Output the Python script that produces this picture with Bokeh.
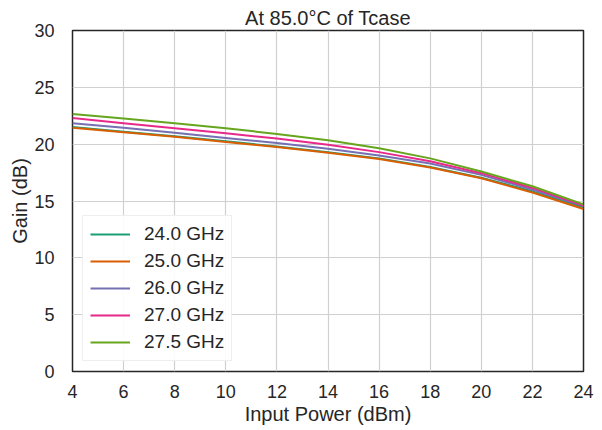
from bokeh.plotting import figure
from bokeh.models import Legend, LegendItem, Range1d, FixedTicker
from bokeh.embed import file_html
from bokeh.resources import INLINE

x_dbm = [4, 6, 8, 10, 12, 14, 16, 18, 20, 22, 24]
gain_24_0 = [21.5, 21.1, 20.7, 20.25, 19.8, 19.3, 18.75, 18.0, 17.05, 15.85, 14.45]
gain_25_0 = [21.45, 21.05, 20.65, 20.2, 19.75, 19.25, 18.7, 17.95, 17.0, 15.75, 14.3]
gain_26_0 = [21.85, 21.45, 21.0, 20.55, 20.1, 19.6, 19.0, 18.3, 17.3, 16.0, 14.55]
gain_27_0 = [22.3, 21.85, 21.4, 20.95, 20.5, 19.95, 19.3, 18.5, 17.45, 16.15, 14.6]
gain_27_5 = [22.65, 22.25, 21.85, 21.4, 20.9, 20.35, 19.65, 18.75, 17.6, 16.3, 14.7]
labels = ["24.0 GHz", "25.0 GHz", "26.0 GHz", "27.0 GHz", "27.5 GHz"]
colors = ["#1b9e77", "#d95f02", "#7570b3", "#e7298a", "#66a61e"]
series = [gain_24_0, gain_25_0, gain_26_0, gain_27_0, gain_27_5]
x_ticks = [4, 6, 8, 10, 12, 14, 16, 18, 20, 22, 24]
y_ticks = [0, 5, 10, 15, 20, 25, 30]

FONT = "Liberation Sans"
TXT = "#262626"

p = figure(width=602, height=430, output_backend="svg", toolbar_location=None,
           x_range=Range1d(4, 24), y_range=Range1d(0, 30),
           min_border_left=72, min_border_right=19, min_border_top=30, min_border_bottom=59)
p.title.text = "At 85.0°C of Tcase"
p.title.align = "center"
p.title.text_font = FONT
p.title.text_font_size = "20px"
p.title.text_font_style = "normal"
p.title.text_color = TXT
p.title.offset = -2
p.title.standoff = 4

p.outline_line_color = "#262626"
p.outline_line_width = 1.5

for ax in (p.xaxis[0], p.yaxis[0]):
    ax.axis_line_color = None
    ax.major_tick_line_color = None
    ax.minor_tick_line_color = None
    ax.major_label_text_font = FONT
    ax.major_label_text_font_size = "18px"
    ax.major_label_text_color = TXT
    ax.axis_label_text_font = FONT
    ax.axis_label_text_font_size = "20px"
    ax.axis_label_text_font_style = "normal"
    ax.axis_label_text_color = TXT

p.xaxis.ticker = FixedTicker(ticks=x_ticks)
p.yaxis.ticker = FixedTicker(ticks=y_ticks)
p.xaxis.axis_label = "Input Power (dBm)"
p.yaxis.axis_label = "Gain (dB)"
p.xaxis.major_label_standoff = 7
p.yaxis.major_label_standoff = 12
p.xaxis.axis_label_standoff = 2
p.yaxis.axis_label_standoff = 0

p.xgrid.grid_line_color = "#d0d0d0"
p.ygrid.grid_line_color = "#d0d0d0"
p.xgrid.grid_line_width = 1.2
p.ygrid.grid_line_width = 1.2

items = []
for lab, col, ys in zip(labels, colors, series):
    r = p.line(x_dbm, ys, line_color=col, line_width=2)
    items.append(LegendItem(label=lab, renderers=[r]))

legend = Legend(items=items, location="bottom_left")
legend.label_text_font = FONT
legend.label_text_font_size = "19px"
legend.label_text_color = TXT
legend.border_line_color = "#dddddd"
legend.border_line_width = 1
legend.background_fill_alpha = 0.9
legend.glyph_width = 40
legend.label_standoff = 14
legend.spacing = 5
legend.padding = 7
legend.margin = 10
p.add_layout(legend)

open("out.html", "w").write(file_html(p, INLINE))
